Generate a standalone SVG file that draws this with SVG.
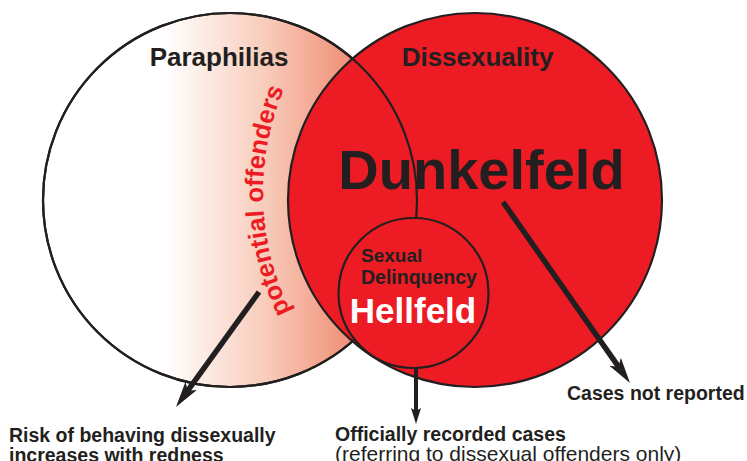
<svg xmlns="http://www.w3.org/2000/svg" width="747" height="461" viewBox="0 0 747 461">
  <style>
    .ring { stroke: #231F20; stroke-width: 2.2; }
    .lbl { font-family: "Liberation Sans", Arial, sans-serif; font-weight: bold; fill: #231F20; }
    .reg { font-family: "Liberation Sans", Arial, sans-serif; font-weight: normal; fill: #231F20; }
    .arrow { stroke: #231F20; fill: none; }
  </style>
  <defs>
    <linearGradient id="redness" gradientUnits="userSpaceOnUse" x1="165" y1="0" x2="365" y2="0">
      <stop offset="0" stop-color="#FFFFFF"/>
      <stop offset="0.5" stop-color="#F8CCBB"/>
      <stop offset="1" stop-color="#EE866A"/>
    </linearGradient>
    <marker id="head" markerUnits="userSpaceOnUse" viewBox="-10 -8 30 16" refX="0" refY="0" markerWidth="30" markerHeight="16" orient="auto">
      <path d="M18,0 L-8,-7 L-2,0 L-8,7 Z" fill="#231F20"/>
    </marker>
    <marker id="headSmall" markerUnits="userSpaceOnUse" viewBox="-6 -6 20 12" refX="0" refY="0" markerWidth="20" markerHeight="12" orient="auto">
      <path d="M12,0 L-4,-5 L-1,0 L-4,5 Z" fill="#231F20"/>
    </marker>
    <path id="arcPath" d="M302,332 A268,268 0 0 1 294,68"/>
  </defs>

  <g id="paraphilias">
    <circle cx="230" cy="200" r="187" fill="url(#redness)" class="ring"/>
    <text class="lbl" x="219" y="66" font-size="26" text-anchor="middle">Paraphilias</text>
    <text font-family="Liberation Sans, Arial, sans-serif" font-weight="bold" font-size="25.5" fill="#ED1C24">
      <textPath href="#arcPath" startOffset="50%" text-anchor="middle">potential offenders</textPath>
    </text>
  </g>

  <g id="dissexuality">
    <circle cx="475" cy="200" r="187" fill="#ED1C24" class="ring"/>
    <circle cx="230" cy="200" r="187" fill="none" class="ring"/>
    <text class="lbl" x="477.5" y="66" font-size="26" text-anchor="middle">Dissexuality</text>
    <text class="lbl" x="481.5" y="189" font-size="56" text-anchor="middle">Dunkelfeld</text>
  </g>

  <g id="sexual-delinquency">
    <circle cx="413.5" cy="293" r="75" fill="#ED1C24" class="ring"/>
    <text class="lbl" x="361" y="262" font-size="19">Sexual</text>
    <text class="lbl" x="361" y="284" font-size="19.5">Delinquency</text>
    <text class="lbl" x="413" y="323" font-size="35" text-anchor="middle" style="fill:#FFFFFF">Hellfeld</text>
  </g>

  <g id="connectors">
    <line class="arrow" x1="259" y1="292" x2="186.5" y2="392.4" stroke-width="5.5" marker-end="url(#head)"/>
    <line class="arrow" x1="416" y1="368" x2="416" y2="412" stroke-width="4" marker-end="url(#headSmall)"/>
    <line class="arrow" x1="503" y1="202" x2="619.7" y2="368.3" stroke-width="5.5" marker-end="url(#head)"/>
  </g>

  <g id="label-risk">
    <text class="lbl" x="9" y="442" font-size="19.5">Risk of behaving dissexually</text>
    <text class="lbl" x="9" y="462" font-size="19.5">increases with redness</text>
  </g>
  <g id="label-official">
    <text class="lbl" x="335" y="441" font-size="19.5">Officially recorded cases</text>
    <text class="reg" x="335" y="461" font-size="21">(referring to dissexual offenders only)</text>
  </g>
  <g id="label-unreported">
    <text class="lbl" x="567" y="400" font-size="19.5">Cases not reported</text>
  </g>
</svg>
